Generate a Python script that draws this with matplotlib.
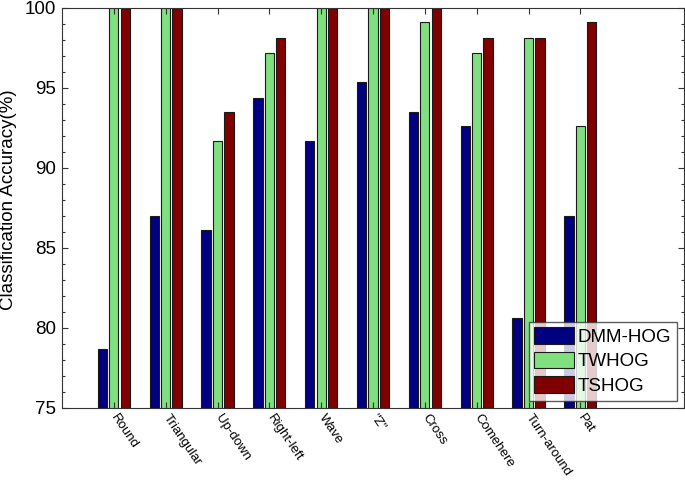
import matplotlib
matplotlib.use("Agg")
import matplotlib.pyplot as plt
import numpy as np
from matplotlib.ticker import MultipleLocator
from matplotlib.transforms import ScaledTranslation

categories = ["Round", "Triangular", "Up-down", "Right-left", "Wave", "\"Z\"", "Cross", "Comehere", "Turn-around", "Pat"]
dmm_hog = [78.7, 87.0, 86.1, 94.4, 91.7, 95.4, 93.5, 92.6, 80.6, 87.0]
twhog = [100, 100, 91.7, 97.2, 100, 100, 99.1, 97.2, 98.1, 92.6]
tshog = [100, 100, 93.5, 98.1, 100, 100, 100, 98.1, 98.1, 99.1]
series_names = ["DMM-HOG", "TWHOG", "TSHOG"]
colors = ["#000080", "#80E080", "#800000"]

plt.rcParams['font.family'] = ['Liberation Sans', 'DejaVu Sans']
fig = plt.figure(figsize=(6.85, 4.82), dpi=100)
ax = fig.add_axes([62/685, 1-408/482, (684-62)/685, 400/482])

x = np.arange(1, len(categories)+1)
w = 0.18
offsets = [-0.22, 0.0, 0.22]
for vals, off, c, name in zip([dmm_hog, twhog, tshog], offsets, colors, series_names):
    ax.bar(x+off, vals, width=w, color=c, edgecolor="#1a1a1a", linewidth=0.8, label=name)

ax.set_ylim(75, 100)
ax.set_xlim(0, 12)
ax.set_xticks(x)
ax.set_xticklabels(categories, rotation=-56, ha='left', va='top', rotation_mode='anchor', fontsize=9.5)
ax.yaxis.set_major_locator(MultipleLocator(5))
ax.yaxis.set_minor_locator(MultipleLocator(1))
ax.tick_params(axis='both', direction='in', top=True, right=True, length=4.5, width=0.8, color="#333333")
ax.tick_params(axis='y', labelsize=13.5, pad=4)
ax.tick_params(axis='y', which='minor', direction='in', right=True, length=2.5, width=0.8, color="#333333")
ax.tick_params(axis='x', pad=3)
shift = ScaledTranslation(5/100, 0, fig.dpi_scale_trans)
for lbl in ax.get_xticklabels():
    lbl.set_transform(lbl.get_transform() + shift)
for s in ax.spines.values():
    s.set_color("#333333")
ax.set_ylabel("Classification Accuracy(%)", fontsize=13.5)
ax.yaxis.set_label_coords(-0.072, 0.52)
leg = ax.legend(loc='lower right', fontsize=13.5, fancybox=False, edgecolor="#333333",
                handlelength=2.1, handleheight=1.0, borderaxespad=0.4, labelspacing=0.3,
                handletextpad=0.2, borderpad=0.3)
leg.get_frame().set_linewidth(1.0)
fig.savefig("out.png", dpi=100)
